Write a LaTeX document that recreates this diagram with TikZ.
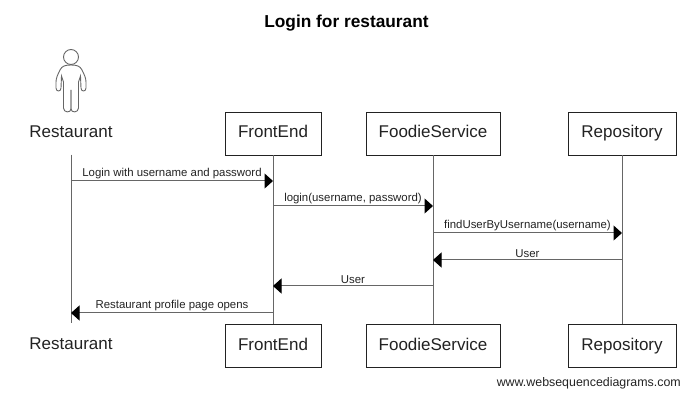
\documentclass[tikz,border=0pt]{standalone}
\usepackage{fontspec}
\setmainfont{Liberation Sans}
\usetikzlibrary{arrows.meta}
\definecolor{lifegray}{HTML}{666666}
\definecolor{inkgray}{HTML}{222222}
\tikzset{
  objbox/.style={draw=inkgray,fill=white,line width=0.9pt,minimum height=43pt,inner sep=0pt,text height=12.5pt,text depth=3.5pt,font=\fontsize{17}{20}\selectfont,text=inkgray},
  objtext/.style={minimum height=43pt,inner sep=0pt,text height=12.5pt,text depth=3.5pt,font=\fontsize{17}{20}\selectfont,text=inkgray},
  life/.style={draw=lifegray,line width=1pt},
  msg/.style={draw=lifegray,line width=1pt,-{Triangle[length=8.5pt,width=15pt,color=black]}},
  msgtext/.style={font=\fontsize{11.4}{13}\selectfont,text=inkgray,inner sep=0pt,above=1.5pt}
}
\begin{document}
\begin{tikzpicture}[x=1pt,y=-1pt]
  \useasboundingbox (0,0) rectangle (694,406);
  \path (346.5,23) node[font=\bfseries\fontsize{17.3}{20}\selectfont] (title) {Login for restaurant};
  % lifelines
  \path (71,133) node[objtext] (restTop) {Restaurant};
  \path (71,345) node[objtext] (restBot) {Restaurant};
  \draw[life] (restTop) -- (restBot);
  \path (273,133.5) node[objbox,minimum width=96pt] (frontTop) {FrontEnd};
  \path (273,345.5) node[objbox,minimum width=96pt] (frontBot) {FrontEnd};
  \path (433,133.5) node[objbox,minimum width=134pt] (foodieTop) {FoodieService};
  \path (433,345.5) node[objbox,minimum width=134pt] (foodieBot) {FoodieService};
  \path (622,133.5) node[objbox,minimum width=108pt] (repoTop) {Repository};
  \path (622,345.5) node[objbox,minimum width=108pt] (repoBot) {Repository};
  \draw[life] (frontTop) -- (frontBot);
  \draw[life] (foodieTop) -- (foodieBot);
  \draw[life] (repoTop) -- (repoBot);
  % actor
  \draw[draw=lifegray,line width=0.9pt] (71,57) circle (7.5);
  \foreach \s in {1,-1} {
    \draw[draw=lifegray,line width=0.9pt,shift={(71,0)},xscale=\s]
      (0,65) .. controls (6,65) and (9,66) .. (11,70)
      .. controls (13,74) and (15,78) .. (15,82) -- (15,88)
      .. controls (15,92) and (10,92) .. (10,88) -- (9.5,76)
      -- (7.5,82) -- (7.5,108)
      .. controls (7.5,113) and (0,113) .. (0,109) -- (0,90);
  }
  % messages
  \coordinate (row1) at (0,181);
  \coordinate (row2) at (0,206);
  \coordinate (row3) at (0,233);
  \coordinate (row4) at (0,260);
  \coordinate (row5) at (0,286);
  \coordinate (row6) at (0,313);
  \draw[msg] (restTop |- row1) -- (frontTop |- row1) node[midway,msgtext] (login) {Login with username and password};
  \draw[msg] (frontTop |- row2) -- (foodieTop |- row2) node[midway,msgtext] (loginCall) {login(username, password)};
  \draw[msg] (foodieTop |- row3) -- (repoTop |- row3) node[midway,msgtext] (findUser) {findUserByUsername(username)};
  \draw[msg] (repoTop |- row4) -- (foodieTop |- row4) node[midway,msgtext] (userRepo) {User};
  \draw[msg] (foodieTop |- row5) -- (frontTop |- row5) node[midway,msgtext] (userFoodie) {User};
  \draw[msg] (frontTop |- row6) -- (restTop |- row6) node[midway,msgtext] (profile) {Restaurant profile page opens};
  \path (681,383) node[anchor=east,inner sep=0pt,font=\fontsize{12.4}{14}\selectfont,text=inkgray] (mark) {www.websequencediagrams.com};
\end{tikzpicture}
\end{document}
